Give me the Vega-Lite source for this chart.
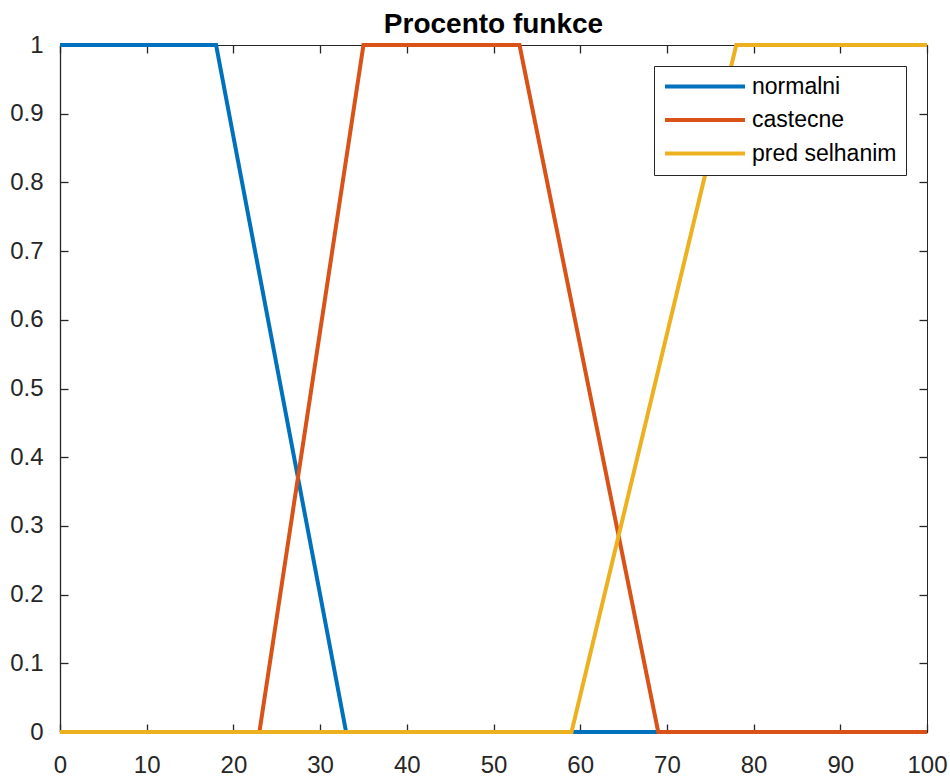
{
  "$schema": "https://vega.github.io/schema/vega-lite/v6.json",
  "width": 867,
  "height": 687,
  "autosize": "none",
  "padding": {"left": 60, "top": 45, "right": 23, "bottom": 45},
  "background": "white",
  "title": {
    "text": "Procento funkce",
    "font": "Liberation Sans",
    "fontSize": 28,
    "fontWeight": "bold",
    "color": "#000000",
    "anchor": "middle",
    "frame": "group",
    "baseline": "alphabetic",
    "offset": 0,
    "dy": 28
  },
  "data": {
    "values": [
      {"x": 0, "y": 1, "s": "normalni"},
      {"x": 18, "y": 1, "s": "normalni"},
      {"x": 33, "y": 0, "s": "normalni"},
      {"x": 100, "y": 0, "s": "normalni"},
      {"x": 0, "y": 0, "s": "castecne"},
      {"x": 23, "y": 0, "s": "castecne"},
      {"x": 35, "y": 1, "s": "castecne"},
      {"x": 53, "y": 1, "s": "castecne"},
      {"x": 69, "y": 0, "s": "castecne"},
      {"x": 100, "y": 0, "s": "castecne"},
      {"x": 0, "y": 0, "s": "pred selhanim"},
      {"x": 59, "y": 0, "s": "pred selhanim"},
      {"x": 78, "y": 1, "s": "pred selhanim"},
      {"x": 100, "y": 1, "s": "pred selhanim"}
    ]
  },
  "layer": [
    {
      "mark": {"type": "line", "opacity": 0},
      "encoding": {
        "x": {"field": "x", "type": "quantitative", "scale": {"domain": [0, 100], "nice": false},
              "axis": {"orient": "top", "labels": false, "title": null, "tickCount": 10, "tickSize": -8, "domain": false}},
        "y": {"field": "y", "type": "quantitative", "scale": {"domain": [0, 1], "nice": false},
              "axis": {"orient": "right", "labels": false, "title": null, "tickCount": 10, "tickSize": -8, "domain": false}},
        "detail": {"field": "s"}
      }
    },
    {
      "mark": {"type": "line", "strokeWidth": 4, "strokeJoin": "miter", "strokeCap": "butt"},
      "encoding": {
        "x": {"field": "x", "type": "quantitative", "scale": {"domain": [0, 100], "nice": false},
              "axis": {"orient": "bottom", "title": null, "tickCount": 10, "tickSize": -8, "labelPadding": 29, "labelFlush": false}},
        "y": {"field": "y", "type": "quantitative", "scale": {"domain": [0, 1], "nice": false},
              "axis": {"orient": "left", "title": null, "tickCount": 10, "tickSize": -8, "labelPadding": 25, "labelFlush": false, "format": ".1~f"}},
        "color": {
          "field": "s",
          "type": "nominal",
          "sort": ["normalni", "castecne", "pred selhanim"],
          "scale": {"domain": ["normalni", "castecne", "pred selhanim"], "range": ["#0072BD", "#D95319", "#EDB120"]},
          "legend": {
            "title": null,
            "orient": "top-right",
            "offset": 21,
            "symbolType": "stroke",
            "symbolSize": 6400,
            "symbolStrokeWidth": 4,
            "clipHeight": 23,
            "labelFont": "Liberation Sans",
            "labelFontSize": 23,
            "labelColor": "#000000",
            "labelOffset": 5,
            "labelLimit": 400,
            "rowPadding": 9.5,
            "padding": 9,
            "strokeColor": "#262626",
            "fillColor": "white"
          }
        }
      }
    }
  ],
  "resolve": {"scale": {"x": "independent", "y": "independent"}},
  "config": {
    "view": {"stroke": "#262626", "strokeWidth": 1},
    "axis": {
      "grid": false,
      "labelFont": "Liberation Sans",
      "labelFontSize": 24,
      "labelColor": "#262626",
      "domainColor": "#262626",
      "tickColor": "#262626",
      "domainWidth": 1.3,
      "tickWidth": 1.3
    }
  }
}
